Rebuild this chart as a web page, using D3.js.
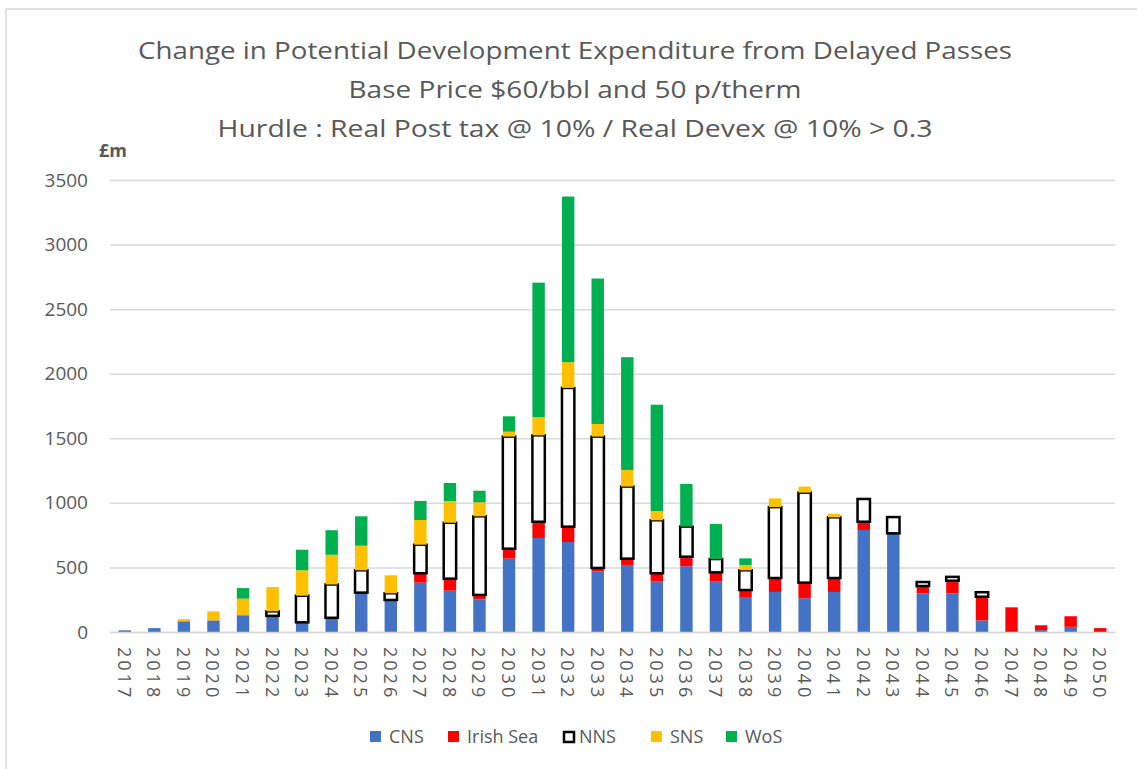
<!DOCTYPE html>
<html>
<head>
<meta charset="utf-8">
<script src="https://cdn.jsdelivr.net/npm/d3@7"></script>
<style>
  body { margin: 0; background: #fff; }
  svg { display: block; font-family: "Open Sans", "Noto Sans", sans-serif; }
</style>
</head>
<body>
<svg id="chart" width="1137" height="769"></svg>
<script>
// Years on the category axis
const years = d3.range(2017, 2051).map(String);

// Values in £m, one per year
const cns = [13, 30, 83, 90, 130, 125, 75, 110, 305, 248, 382, 320, 253, 568, 728, 697, 470, 519, 390, 509,
  390, 271, 310, 261, 310, 790, 764, 300, 300, 90, 0, 15, 40, 0];
const irishSea = [0, 0, 0, 0, 0, 0, 0, 0, 0, 0, 73, 93, 34, 77, 126, 119, 26, 49, 65, 74,
  72, 54, 108, 121, 108, 64, 0, 56, 97, 183, 191, 37, 82, 30];
const nns = [0, 0, 0, 0, 0, 35, 206, 258, 173, 52, 221, 433, 609, 868, 669, 1074, 1017, 558, 410, 233,
  103, 153, 549, 697, 470, 176, 126, 31, 30, 35, 0, 0, 0, 0];
const sns = [0, 0, 17, 70, 128, 188, 197, 230, 190, 139, 191, 168, 108, 38, 140, 199, 98, 129, 72, 0,
  0, 41, 68, 47, 28, 0, 0, 0, 0, 0, 0, 0, 0, 0];
const wos = [0, 0, 0, 0, 82, 0, 159, 190, 228, 0, 148, 140, 90, 119, 1042, 1283, 1126, 873, 823, 330,
  271, 51, 0, 0, 0, 0, 0, 0, 0, 0, 0, 0, 0, 0];

const seriesNames = ["CNS", "Irish Sea", "NNS", "SNS", "WoS"];
const yTicks = [0, 500, 1000, 1500, 2000, 2500, 3000, 3500];
const titleLines = [
  "Change in Potential Development Expenditure from Delayed Passes",
  "Base Price $60/bbl and 50 p/therm",
  "Hurdle : Real Post tax @ 10% / Real Devex @ 10% > 0.3"
];

const colors = { "CNS": "#4472C4", "Irish Sea": "#FF0000", "NNS": "#FFFFFF", "SNS": "#FFC000", "WoS": "#00B050" };

const table = years.map((y, i) => ({
  year: y, "CNS": cns[i], "Irish Sea": irishSea[i], "NNS": nns[i], "SNS": sns[i], "WoS": wos[i]
}));

const svg = d3.select("#chart");

// chart frame
svg.append("rect")
  .attr("x", 6).attr("y", 9).attr("width", 1160).attr("height", 800)
  .attr("fill", "none").attr("stroke", "#d9d9d9").attr("stroke-width", 1.5);

const x = d3.scaleBand().domain(years).range([110, 1115]).paddingInner(0.58).paddingOuter(0.29);
const y = d3.scaleLinear().domain([0, 3500]).range([632, 180]);

// titles (squeezed to the width of the original narrow font)
const titleWidths = [874, 453, 715];
svg.append("g").selectAll("text")
  .data(titleLines)
  .join("text")
  .attr("x", 575)
  .attr("y", (d, i) => 59 + i * 39)
  .attr("text-anchor", "middle")
  .attr("font-size", "24px")
  .attr("fill", "#595959")
  .attr("textLength", (d, i) => titleWidths[i])
  .attr("lengthAdjust", "spacingAndGlyphs")
  .text(d => d);

svg.append("text")
  .attr("x", 99).attr("y", 157)
  .attr("font-size", "18px").attr("font-weight", "bold")
  .attr("fill", "#595959")
  .text("£m");

// y axis with gridlines
svg.append("g")
  .attr("transform", "translate(110,0)")
  .call(d3.axisLeft(y).tickValues(yTicks).tickFormat(d3.format("d")).tickSize(-1005).tickPadding(22))
  .call(g => {
    g.select(".domain").remove();
    g.selectAll(".tick line").attr("stroke", "#d9d9d9").attr("stroke-width", 1.5);
    g.selectAll(".tick text").attr("fill", "#595959").attr("font-size", "19px")
      .attr("font-family", "Open Sans, sans-serif");
  });

// stacked bars
const stack = d3.stack().keys(seriesNames);
const layers = stack(table);

svg.append("g").selectAll("g")
  .data(layers)
  .join("g")
  .attr("fill", d => colors[d.key])
  .attr("stroke", d => d.key === "NNS" ? "#000" : "none")
  .attr("stroke-width", 2.5)
  .selectAll("rect")
  .data(d => d.filter(s => s[1] - s[0] > 0))
  .join("rect")
  .attr("x", d => x(d.data.year))
  .attr("width", x.bandwidth())
  .attr("y", d => y(d[1]))
  .attr("height", d => y(d[0]) - y(d[1]));

// x axis
svg.append("g")
  .attr("transform", "translate(0,632)")
  .call(d3.axisBottom(x).tickSize(0).tickPadding(0))
  .call(g => {
    g.select(".domain").attr("stroke", "#d9d9d9").attr("stroke-width", 1.5);
    g.selectAll(".tick text")
      .attr("fill", "#595959").attr("font-size", "18px")
      .attr("font-family", "Open Sans, sans-serif")
      .attr("letter-spacing", "3px")
      .attr("text-anchor", "start")
      .attr("dy", null)
      .attr("transform", "translate(-7,15) rotate(90)");
  });

// legend
const legendPos = [370, 448, 563, 651, 726];
const legend = svg.append("g").selectAll("g")
  .data(seriesNames)
  .join("g")
  .attr("transform", (d, i) => `translate(${legendPos[i]},731)`);

legend.append("rect")
  .attr("width", d => d === "NNS" ? 10 : 11)
  .attr("height", d => d === "NNS" ? 10 : 11)
  .attr("x", d => d === "NNS" ? 1 : 0)
  .attr("y", d => d === "NNS" ? 1 : 0)
  .attr("fill", d => colors[d])
  .attr("stroke", d => d === "NNS" ? "#000" : "none")
  .attr("stroke-width", 2.5);

legend.append("text")
  .attr("x", d => d === "NNS" ? 16 : 19)
  .attr("y", 12)
  .attr("font-size", "18px")
  .attr("fill", "#595959")
  .text(d => d);
</script>
</body>
</html>
